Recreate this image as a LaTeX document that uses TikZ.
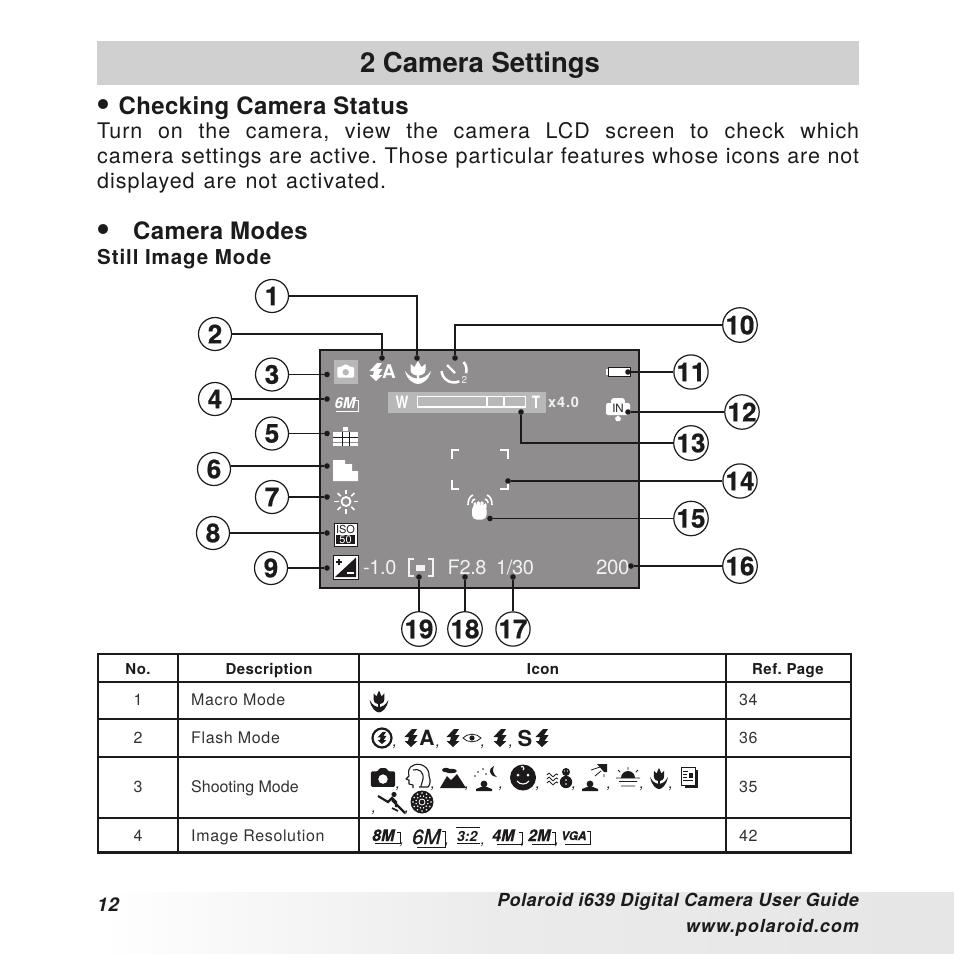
\documentclass[tikz,border=0pt]{standalone}
\usepackage{fontspec}
\usepackage{xcolor}
\setmainfont{TeX Gyre Heros}
\newfontfamily\wideface[LetterSpace=4]{TeX Gyre Heros}
\newfontfamily\paraface[LetterSpace=4.5,WordSpace=1.3]{TeX Gyre Heros}
\newfontfamily\slimface[LetterSpace=-2]{TeX Gyre Heros}
\definecolor{ink}{HTML}{1C1A1B}
\definecolor{screen}{HTML}{8F8D8E}
\definecolor{chip}{HTML}{B9B8B8}
\definecolor{band}{HTML}{D0D0D0}
\definecolor{softwhite}{HTML}{F2F2F2}
\definecolor{foot}{HTML}{EBEBEB}
\newcommand{\px}[1]{\fontsize{#1}{#1}\selectfont}
\frenchspacing
\tikzset{
  callout/.style={draw=ink,circle,fill=white,line width=1.2pt,minimum size=33pt,inner sep=0pt,
    text=ink,font=\bfseries\addfontfeatures{FakeBold=.6}\px{26}},
  tipdot/.style={circle,fill=ink,minimum size=5.6pt,inner sep=0pt},
  leadline/.style={draw=ink,line width=1.2pt},
  leadheavy/.style={draw=ink,line width=1.7pt},
  txt/.style={anchor=base west,inner sep=0pt,text=ink},
  headtxt/.style={txt,font=\bfseries\addfontfeatures{LetterSpace=1.5}\px{24}},
  paratxt/.style={txt,font=\paraface\px{21.5}},
  lcdtxt/.style={anchor=base west,inner sep=0pt,text=softwhite,font=\slimface\px{20}},
  cellhead/.style={anchor=base,inner sep=0pt,text=ink,font=\bfseries\addfontfeatures{LetterSpace=3}\px{15}},
  celltxt/.style={anchor=base west,inner sep=0pt,text=ink!90,font=\wideface\px{16}},
  cellnum/.style={anchor=base,inner sep=0pt,text=ink!90,font=\wideface\px{16}},
  sep/.style={anchor=base,inner sep=0pt,text=ink,font=\itshape\px{15}},
  resmark/.style={anchor=base west,inner sep=0pt,text=ink,font=\bfseries\itshape\px{16}},
  resline/.style={draw=ink,line width=.8pt},
  footertxt/.style={anchor=base east,inner sep=0pt,text=ink},
  pics/camicon/.style={code={
    \fill[even odd rule,rounded corners=1.2pt] (-11,-6) -- (-5,-6) -- (-3,-9) -- (3,-9) -- (5,-6) -- (11,-6) -- (11,8) -- (-11,8) -- cycle (0,1) circle (4.4);
  }},
  pics/bolt/.style={code={
    \fill (1,-9) -- (-6.5,-1) -- (-2,-1) -- (-3,3) -- (-6.5,3) -- (0,9) -- (6.5,3) -- (2.5,3) -- (6.5,-3) -- (2,-3) -- (6,-9) -- cycle;
  }},
  pics/tulip/.style={code={
    \fill (-7.5,-8) -- (-3.5,-5) -- (0,-11) -- (3.5,-5) -- (7.5,-8) -- (7.5,-2) .. controls (7.5,2) and (3,3.5) .. (0,3.5) .. controls (-3,3.5) and (-7.5,2) .. (-7.5,-2) -- cycle;
    \fill (-13,-1) .. controls (-11,8) and (-4,12) .. (0,12) .. controls (4,12) and (11,8) .. (13,-1) .. controls (9,4.5) and (5,6) .. (1.2,6.5) -- (1.2,3) -- (-1.2,3) -- (-1.2,6.5) .. controls (-5,6) and (-9,4.5) .. (-13,-1) -- cycle;
  }},
  pics/bust/.style={code={
    \fill (0,0) circle (3.4);
    \fill (-8,7) -- (-8,5) -- (-3,3) -- (3,3) -- (8,5) -- (8,7) -- cycle;
  }},
}
\begin{document}
\begin{tikzpicture}[x=1pt,y=-1pt]
\useasboundingbox (0,0) rectangle (954,954);
% page header and text
\fill[band] (97,41) rectangle (859,85);
\node[text=ink,inner sep=0pt,anchor=base,font=\bfseries\px{27.5}] (title) at (480,72) {2 Camera Settings};
\node[inner sep=0pt,text=ink,font=\bfseries\px{40}] (bullet1) at (103,108) {•};
\node[headtxt] (check) at (118.5,114) {Checking Camera Status};
\node[paratxt] (para1) at (97,138) {\makebox[762pt][s]{Turn on the camera, view the camera LCD screen to check which}};
\node[paratxt] (para2) at (97,163) {\makebox[762pt][s]{camera settings are active. Those particular features whose icons are not}};
\node[paratxt] (para3) at (97,188) {displayed are not activated.};
\node[inner sep=0pt,text=ink,font=\bfseries\px{40}] (bullet2) at (103,233) {•};
\node[headtxt] (modes) at (133,239) {Camera Modes};
\node[txt,font=\bfseries\addfontfeatures{LetterSpace=4.5}\px{20.5}] (still) at (97,264) {Still Image Mode};
% lcd screen
\draw[draw=ink,fill=screen,line width=2pt] (320,349.5) rectangle (639,588);
\fill[chip] (333.5,360) rectangle (358,384);
\pic[white,scale=.76] at (345.7,371.5) {camicon};
\pic[white] at (376,372) {bolt};
\node[inner sep=0pt,text=white,font=\bfseries\px{19}] (autoA) at (389,372) {A};
\pic[white] at (418,372) {tulip};
\draw[white,line width=2.5pt] (454,370) ++(-40:12.5) arc (-40:15:12.5);
\draw[white,line width=2.5pt] (454,370) ++(65:12.5) arc (65:175:12.5);
\draw[white,line width=2.4pt] (447,365) -- (455,373);
\node[inner sep=0pt,text=softwhite,font=\px{10}] (timertwo) at (464.5,379.5) {2};
\node[inner sep=0pt,text=white,font=\bfseries\itshape\px{15}] (sixm) at (345,403.5) {6M};
\draw[white,line width=.7pt] (336,411) -- (358,411) -- (358,400) -- (355,400);
% scene icon
\fill[white] (343,427) rectangle (348,431);
\fill[white] (333,432) rectangle (358,446);
\draw[ink,line width=.8pt] (333,437) -- (358,437);
\draw[screen,line width=.8pt] (333,442) -- (358,442);
\draw[ink,line width=.8pt] (342,432) -- (342,446) (349.5,432) -- (349.5,446);
\fill[white] (333,460) -- (345,460) -- (345,464) -- (352,464) -- (352,471) -- (358,471) -- (358,481) -- (333,481) -- cycle;
% sun
\draw[white,line width=1.8pt] (346,501.5) circle (4.5);
\foreach \a in {0,45,...,315} {
  \draw[white,line width=1.7pt] (346,501.5) ++(\a:7.5) -- ++(\a:4.5);
}
% iso and ev boxes
\draw[fill=white,draw=ink,line width=.8pt] (334,523) rectangle (357,546);
\fill[ink] (336,535) rectangle (355,544);
\node[inner sep=0pt,text=ink,font=\px{11}] (isotxt) at (345.5,529.5) {ISO};
\node[inner sep=0pt,text=white,font=\px{11}] (isonum) at (345.5,539.5) {50};
\draw[fill=white,draw=ink,line width=1pt] (333,555.5) rectangle (358,579);
\fill[ink] (356,557.5) -- (356,577) -- (335,577) -- cycle;
\draw[ink,line width=1.1pt] (336,562) -- (342,562) (339,559) -- (339,565);
\draw[white,line width=1.1pt] (347,573) -- (354,573);
% readouts
\node[lcdtxt] (ev) at (363,574.5) {-1.0};
\draw[softwhite,line width=1.8pt] (414,559) -- (409,559) -- (409,576) -- (414,576);
\draw[softwhite,line width=1.8pt] (428,559) -- (433,559) -- (433,576) -- (428,576);
\fill[softwhite] (416,565) rectangle (425,571);
\node[lcdtxt] (fstop) at (447.5,574.5) {F2.8};
\node[lcdtxt] (shutter) at (496,574.5) {1/30};
\node[lcdtxt,font=\slimface\px{20.5}] (count) at (596,574.5) {200};
% zoom bar
\fill[chip] (388,392) rectangle (546,413);
\node[inner sep=0pt,text=white,font=\bfseries\px{17},xscale=.8,transform shape] (wide) at (402,402.5) {W};
\draw[white,line width=1.5pt] (417.5,396.5) rectangle (525.5,407);
\draw[white,line width=1.2pt] (487,396.5) -- (487,407) (504,396.5) -- (504,407);
\node[inner sep=0pt,text=white,font=\bfseries\px{17},xscale=.8,transform shape] (tele) at (536,402.5) {T};
\node[inner sep=0pt,anchor=base west,text=softwhite,font=\bfseries\addfontfeatures{LetterSpace=6}\px{14.5}] (ratio) at (548,407) {x4.0};
% battery and memory
\fill[white] (605.5,369) rectangle (608,375);
\draw[fill=white,draw=ink,line width=1pt] (608.5,367.5) rectangle (630,376.5);
\fill[white,rounded corners=2pt] (606,403) rectangle (630,415);
\fill[white,rounded corners=3pt] (611,398) rectangle (625,408);
\fill[white] (618,415.5) -- (621,418) -- (620,421) -- (616,421) -- (615,418) -- cycle;
\node[inner sep=0pt,text=ink,font=\px{11.5}] (intern) at (618,408) {IN};
% focus frame
\draw[white,line width=2pt] (451.5,459) -- (451.5,450) -- (459,450);
\draw[white,line width=2pt] (500,450) -- (507.5,450) -- (507.5,459);
\draw[white,line width=2pt] (451.5,480) -- (451.5,488.5) -- (459,488.5);
\draw[white,line width=2pt] (500,488.5) -- (507.5,488.5) -- (507.5,480);
% shake hand
\fill[white,rounded corners=4.5pt] (472,505) rectangle (486.5,519.5);
\fill[white,rounded corners=1.5pt] (473.5,502) rectangle (476.5,509) (477,501) rectangle (480,509) (480.5,501) rectangle (483.5,509) (484,503) rectangle (486.5,509);
\draw[white,line width=1.6pt] (468,505) .. controls (468,500) and (469.5,496.5) .. (473,495);
\draw[white,line width=1.6pt] (472,503) .. controls (472,501) and (473,499.5) .. (475,499);
\draw[white,line width=1.6pt] (492,505) .. controls (492,500) and (490.5,496.5) .. (487,495);
\draw[white,line width=1.6pt] (488,503) .. controls (488,501) and (487,499.5) .. (485,499);
% numbered callouts
\node[callout] (c1) at (272,296) {1};
\node[callout] (c2) at (215,334) {2};
\node[callout] (c3) at (272,374.5) {3};
\node[callout] (c4) at (215,399) {4};
\node[callout] (c5) at (272,433.5) {5};
\node[callout] (c6) at (214,469) {6};
\node[callout] (c7) at (272,497) {7};
\node[callout] (c8) at (213,533) {8};
\node[callout] (c9) at (271,568) {9};
\node[callout] (c10) at (740,325) {10};
\node[callout] (c11) at (691,372) {11};
\node[callout] (c12) at (742,412) {12};
\node[callout] (c13) at (691,443) {13};
\node[callout] (c14) at (740,481) {14};
\node[callout] (c15) at (691,518.5) {15};
\node[callout] (c16) at (740,566) {16};
\node[callout] (c17) at (513,629) {17};
\node[callout] (c18) at (465,629) {18};
\node[callout] (c19) at (419,629) {19};
\node[tipdot] (d1) at (417,358) {};
\node[tipdot] (d2) at (382,358) {};
\node[tipdot] (d3) at (327,374.5) {};
\node[tipdot] (d4) at (327,399) {};
\node[tipdot] (d5) at (327,433.5) {};
\node[tipdot] (d6) at (327,466) {};
\node[tipdot] (d7) at (327,497) {};
\node[tipdot] (d8) at (327,533) {};
\node[tipdot] (d9) at (327,568) {};
\node[tipdot] (d10) at (455,358) {};
\node[tipdot] (d11) at (628,372) {};
\node[tipdot] (d12) at (628,412) {};
\node[tipdot] (d13) at (521,412) {};
\node[tipdot] (d14) at (508,481) {};
\node[tipdot] (d15) at (490,518.5) {};
\node[tipdot] (d16) at (631,566) {};
\node[tipdot] (d17) at (513,577) {};
\node[tipdot] (d18) at (465,577) {};
\node[tipdot] (d19) at (419,577) {};
\draw[leadline] (c1) -| (d1);
\draw[leadheavy] (c2) -| (d2);
\draw[leadline] (c3) -- (d3);
\draw[leadline] (c4) -- (d4);
\draw[leadheavy] (c5) -- (d5);
\draw[leadheavy] (c6.east |- d6) -- (d6);
\draw[leadheavy] (c7) -- (d7);
\draw[leadline] (c8) -- (d8);
\draw[leadline] (c9) -- (d9);
\draw[leadline] (c10) -| (d10);
\draw[leadheavy] (c11) -- (d11);
\draw[leadheavy] (c12) -- (d12);
\draw[leadline] (c13) -| (d13);
\draw[leadheavy] (c14) -- (d14);
\draw[leadline] (c15) -- (d15);
\draw[leadline] (c16) -- (d16);
\draw[leadheavy] (c17) -- (d17);
\draw[leadheavy] (c18) -- (d18);
\draw[leadline] (c19) -- (d19);
% table
\draw[ink,line width=1.1pt] (98,682) -- (851,682) (98,719) -- (851,719) (98,757) -- (851,757) (98,818) -- (851,818);
\draw[ink,line width=1.1pt] (178,654) -- (178,852) (359,654) -- (359,852) (726,654) -- (726,852);
\draw[ink,line width=2.2pt] (98,654) rectangle (851,852.5);
\node[cellhead] (headno) at (138,674) {No.};
\node[cellhead] (headdesc) at (269,674) {Description};
\node[cellhead] (headicon) at (543,674) {Icon};
\node[cellhead] (headpage) at (788,674) {Ref. Page};
\node[cellnum] (no1) at (138,705) {1};
\node[cellnum] (no2) at (138,743) {2};
\node[cellnum] (no3) at (138,792) {3};
\node[cellnum] (no4) at (138,841) {4};
\node[celltxt] (desc1) at (191,705) {Macro Mode};
\node[celltxt] (desc2) at (191,743) {Flash Mode};
\node[celltxt,font=\px{16}] (desc3) at (191,792.5) {Shooting Mode};
\node[celltxt] (desc4) at (191,841) {Image Resolution};
\node[celltxt] (page1) at (739,705) {34};
\node[celltxt] (page2) at (739,743) {36};
\node[celltxt] (page3) at (739,792) {35};
\node[celltxt] (page4) at (739,841) {42};
% row 1 icons
\pic[ink,xscale=.72,yscale=.95] at (379,701) {tulip};
% row 2 icons
\draw[ink,line width=2.2pt] (382,738) circle (9.5);
\pic[ink,scale=.68] at (382,738) {bolt};
\node[sep] (s21) at (395,746) {,};
\pic[ink] at (411,738) {bolt};
\node[inner sep=0pt,text=ink,font=\bfseries\px{21}] (flashA) at (427,738) {A};
\node[sep] (s22) at (438,746) {,};
\pic[ink] at (453,738) {bolt};
\draw[ink,line width=.8pt] (463,738) .. controls (467,733) and (477,733) .. (481,738) .. controls (477,743) and (467,743) .. (463,738) -- cycle;
\fill[ink] (472,738) circle (2.6);
\node[sep] (s23) at (483,746) {,};
\pic[ink] at (500,738) {bolt};
\node[sep] (s24) at (511,746) {,};
\node[inner sep=0pt,text=ink,font=\bfseries\px{22}] (slowS) at (525,738) {S};
\pic[ink] at (542,738) {bolt};
% row 3 icons
\pic[ink,scale=1.1] at (383,778) {camicon};
\node[sep] (s31) at (398,788) {,};
\draw[ink,line width=1.1pt,line join=round] (414,765) .. controls (421,762) and (430,768) .. (429,776) .. controls (431,781) and (430,785) .. (428,787) -- (419,787) (414,765) .. controls (408,767) and (408,772) .. (409,776) -- (406,779) -- (409,780) -- (409,784) -- (413,785) -- (413,788) (413,770) .. controls (419,768) and (424,772) .. (423,779) -- (421,786);
\node[sep] (s32) at (433,788) {,};
\fill[ink] (440,788) -- (447,776) -- (451,780) -- (457,774) -- (466,788) -- cycle;
\fill[ink] (446,770) ellipse (4 and 2.2) (451,771) ellipse (6 and 2.2);
\node[sep] (s33) at (467,788) {,};
\pic[ink] at (484,784) {bust};
\fill[ink] (494,766) .. controls (488,768) and (488,776) .. (497,777) .. controls (493,774) and (492,770) .. (494,766) -- cycle;
\fill[ink] (478,772) circle (.9) (483,769) circle (.9) (486,774) circle (.8) (475,776) circle (.8);
\node[sep] (s34) at (501,788) {,};
\fill[ink] (523,777.5) circle (13);
\fill[white] (518,775) circle (1.5) (528,775) circle (1.5);
\draw[white,line width=1.1pt] (517,781) .. controls (520,785) and (526,785) .. (529,781);
\draw[white,line width=1.1pt] (521,767) .. controls (523,765) and (525,769) .. (523,770);
\node[sep] (s35) at (538,788) {,};
\foreach \y in {775,779,783} {
  \draw[ink,line width=.8pt] (547,\y) .. controls (549,\y-2.5) and (550,\y-2.5) .. (551,\y) .. controls (552,\y+2.5) and (554,\y+2.5) .. (555,\y) .. controls (556,\y-1.5) and (557,\y-1.5) .. (558,\y);
}
\fill[ink] (566,772) circle (4) (566,782) circle (6.2);
\fill[white] (564.5,771) circle (.7) (567.5,771) circle (.7) (566,780) circle (.8) (566,784) circle (.8);
\node[sep] (s36) at (574,788) {,};
\pic[ink] at (590,784) {bust};
\fill[ink] (597,764) -- (607,764) -- (607,772) -- (604,772) -- cycle;
\draw[ink,line width=.8pt] (591,770) -- (600,767) (595,776) -- (601,771) (604,777) -- (604,774);
\node[sep] (s37) at (609,788) {,};
\fill[ink] (621,778) arc (180:360:7) -- cycle;
\draw[ink,line width=.9pt] (628,767) -- (628,770) (618,770) -- (620,772) (638,770) -- (636,772) (616,778) -- (640,778) (619,781.5) -- (637,781.5) (621,786) -- (635,786);
\node[sep] (s38) at (642,788) {,};
\pic[ink,xscale=.68,yscale=.92] at (659,778) {tulip};
\node[sep] (s39) at (671,788) {,};
\fill[ink] (685,770) rectangle (698,788);
\draw[fill=white,draw=ink,line width=.8pt] (681,767) rectangle (695,785);
\draw[ink,line width=.7pt] (683,771) -- (688,771) (683,774) -- (687,774) (683,777) -- (687,777) (683,780) -- (693,780);
\fill[ink] (689,773) rectangle (693,778);
\node[sep] (s40) at (374,812) {,};
\draw[ink,line width=2.2pt] (378,796) -- (388,802) -- (392,798) -- (396,802) -- (396,807);
\draw[ink,line width=2.2pt] (392,800) -- (405,813);
\draw[ink,line width=1.6pt] (392,808) -- (398,811);
\fill[ink] (394,794.5) circle (2.6);
\node[sep] (s41) at (407,812) {,};
\fill[ink] (422,802) circle (11.5);
\foreach \a in {0,30,...,330} {
  \fill[white] (422,802) ++(\a:9) circle (.9);
  \fill[white] (422,802) ++(\a+15:6) circle (.8);
}
\draw[white,line width=.8pt] (422,802) circle (3);
% row 4 icons
\node[resmark,font=\bfseries\itshape\addfontfeatures{FakeBold=.5}\px{16}] (res8) at (372,841) {8M};
\draw[resline] (375,843.5) -- (400,843.5) -- (400,832) -- (397,832);
\node[sep] (s51) at (402,844) {,};
\node[resmark,font=\itshape\addfontfeatures{FakeBold=1.2}\px{20.5}] (res6) at (412,844) {6M};
\draw[resline] (417,847) -- (445,847) -- (445,831) -- (442,831);
\node[sep] (s52) at (447,844) {,};
\node[resmark,font=\bfseries\itshape\px{14}] (res3) at (457,841) {3:2};
\draw[resline] (456,827.5) -- (480,827.5) (457,843.5) -- (480,843.5);
\node[sep] (s53) at (483,844) {,};
\node[resmark,font=\bfseries\itshape\addfontfeatures{FakeBold=.5}\px{16}] (res4) at (492,841) {4M};
\draw[resline] (497,844) -- (522,844) -- (522,832) -- (519,832);
\node[sep] (s54) at (523,844) {,};
\node[resmark,font=\bfseries\itshape\addfontfeatures{FakeBold=.5}\px{16}] (res2) at (528,841) {2M};
\draw[resline] (532,844) -- (555,844) -- (555,832) -- (552,832);
\node[sep] (s55) at (557,844) {,};
\node[resmark,font=\bfseries\itshape\addfontfeatures{FakeBold=.8}\px{12}] (resv) at (561,840) {VGA};
\draw[resline] (565,844) -- (590,844) -- (590,831) -- (587,831);
% footer
\shade[left color=white,right color=foot] (100,892) rectangle (500,954);
\shade[left color=foot,right color=black!10] (500,892) rectangle (954,954);
\node[txt,font=\bfseries\itshape\addfontfeatures{LetterSpace=3}\px{19}] (pageno) at (97,911) {12};
\node[footertxt,font=\bfseries\itshape\addfontfeatures{LetterSpace=3}\px{18}] (guide) at (859,906) {Polaroid i639 Digital Camera User Guide};
\node[footertxt,font=\bfseries\itshape\addfontfeatures{LetterSpace=5}\px{18}] (site) at (859,932) {www.polaroid.com};
\end{tikzpicture}
\end{document}
